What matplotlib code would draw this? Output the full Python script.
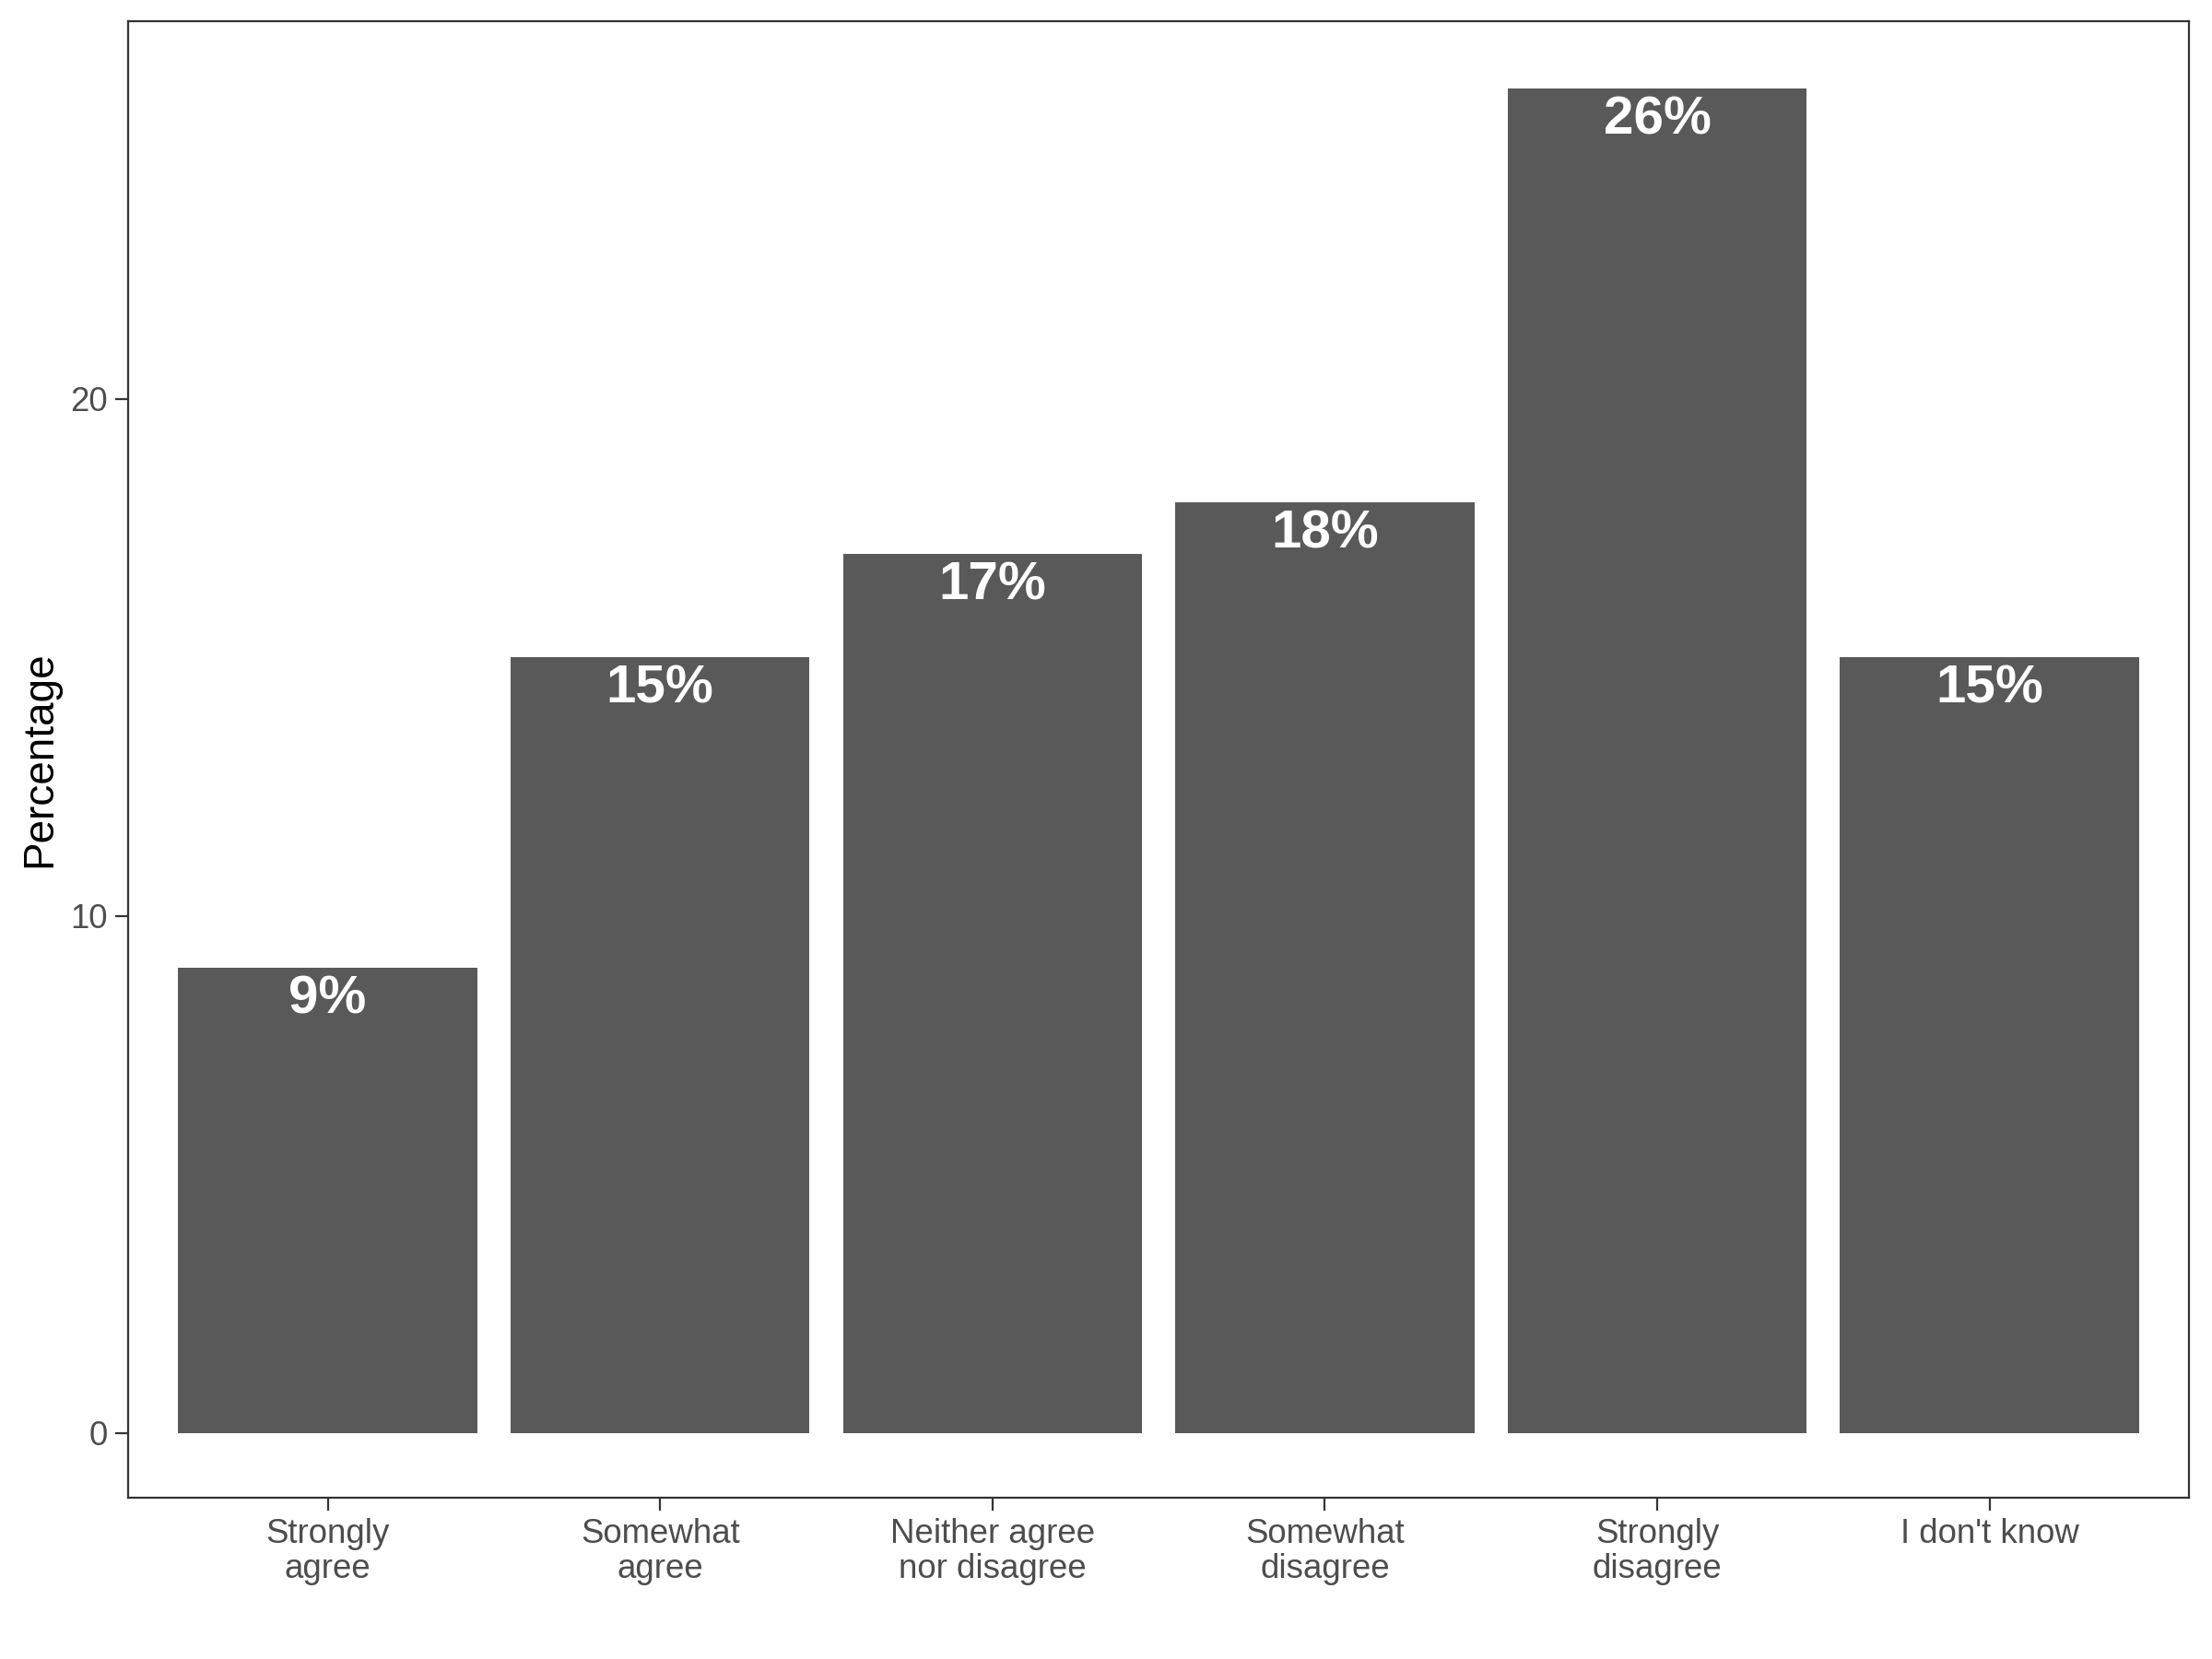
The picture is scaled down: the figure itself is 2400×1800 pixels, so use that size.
import numpy as np
import matplotlib.pyplot as plt

plt.rcParams['font.family'] = ['Liberation Sans', 'DejaVu Sans']

# Survey responses
categories = ['Strongly\nagree', 'Somewhat\nagree', 'Neither agree\nnor disagree',
              'Somewhat\ndisagree', 'Strongly\ndisagree', "I don't know"]
percentages = [9, 15, 17, 18, 26, 15]
y_ticks = [0, 10, 20]

fig = plt.figure(figsize=(12, 9), dpi=200)
ax = fig.add_axes([0.058, 0.0972, 0.9316, 0.89])

x = np.arange(1, len(categories) + 1)
ax.bar(x, percentages, width=0.9, color='#595959')

# Labels just below the top of each bar
for xi, p in zip(x, percentages):
    ax.annotate(f'{p}%', (xi, p), xytext=(0, -12.5), textcoords='offset points',
                ha='center', va='center', color='white', fontsize=21, fontweight='bold')

ax.set_xlim(0.4, 6.6)
ax.set_ylim(-1.25, 27.3)
ax.set_xticks(x)
ax.set_xticklabels(categories, fontsize=13.2, color='#4D4D4D', linespacing=1.1)
ax.set_yticks(y_ticks)
ax.set_yticklabels([str(t) for t in y_ticks], fontsize=13.2, color='#4D4D4D')
ax.tick_params(axis='both', length=5, width=0.8, color='#333333', pad=3)
ax.set_ylabel('Percentage', fontsize=16.5, labelpad=4)

for s in ax.spines.values():
    s.set_color('#333333')
    s.set_linewidth(0.8)

fig.savefig('out.png', dpi=200)
